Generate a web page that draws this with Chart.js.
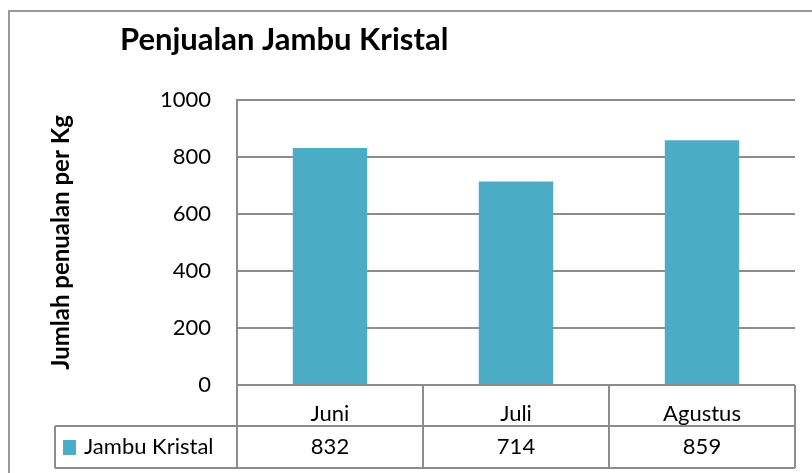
<!DOCTYPE html>
<html>
<head>
<meta charset="utf-8">
<script src="https://cdn.jsdelivr.net/npm/chart.js@4"></script>
<style>
  html, body { margin: 0; padding: 0; background: #fff; }
  #wrap { width: 812px; height: 473px; position: relative; }
</style>
</head>
<body>
<div id="wrap"><canvas id="salesChart"></canvas></div>
<script>
// Chart data
const chartTitle = 'Penjualan Jambu Kristal';
const yAxisTitle = 'Jumlah penualan per Kg';
const seriesName = 'Jambu Kristal';
const months = ['Juni', 'Juli', 'Agustus'];
const sales = [832, 714, 859];
const yTickValues = [0, 200, 400, 600, 800, 1000];

const barColor = '#4BACC6';
const lineColor = '#8c8c8c';
const textFont = 'Lato, "Open Sans", sans-serif';

// Frame, title and data table under the x axis
const tablePlugin = {
    id: 'dataTable',
    beforeDraw(chart) {
        const c = chart.ctx;
        c.save();
        c.fillStyle = '#fff';
        c.fillRect(0, 0, chart.width, chart.height);
        c.strokeStyle = '#9a9a9a';
        c.lineWidth = 2;
        c.beginPath();
        c.moveTo(9, chart.height);
        c.lineTo(9, 11);
        c.lineTo(chart.width, 11);
        c.stroke();

        c.fillStyle = '#000';
        c.font = 'bold 31px ' + textFont;
        c.textBaseline = 'alphabetic';
        c.fillText(chartTitle, 120, 50);
        c.restore();
    },
    afterDraw(chart) {
        const c = chart.ctx;
        const area = chart.chartArea;
        const x = chart.scales.x;
        const catW = x.getPixelForValue(1) - x.getPixelForValue(0);
        const headTop = area.bottom;
        const rowTop = x.bottom;
        const rowBottom = rowTop + 42;
        const legendLeft = area.left - 182;

        c.save();
        c.strokeStyle = lineColor;
        c.lineWidth = 2;
        c.beginPath();
        // column separators
        for (let i = 0; i <= months.length; i++) {
            const px = area.left + i * catW;
            c.moveTo(px, headTop);
            c.lineTo(px, rowBottom);
        }
        // row lines
        c.moveTo(legendLeft, rowTop);
        c.lineTo(area.right, rowTop);
        c.moveTo(legendLeft, rowBottom);
        c.lineTo(area.right, rowBottom);
        c.moveTo(legendLeft, rowTop);
        c.lineTo(legendLeft, rowBottom);
        c.stroke();

        // legend key
        const midY = (rowTop + rowBottom) / 2;
        c.fillStyle = barColor;
        c.fillRect(legendLeft + 8, midY - 7, 13, 15);
        c.fillStyle = '#000';
        c.font = '22px ' + textFont;
        c.textBaseline = 'middle';
        c.textAlign = 'left';
        c.fillText(seriesName, legendLeft + 29, midY);

        // values
        c.textAlign = 'center';
        sales.forEach((v, i) => {
            c.fillText(String(v), x.getPixelForValue(i), midY);
        });
        c.restore();
    }
};

const ctx = document.getElementById('salesChart').getContext('2d');
const salesChart = new Chart(ctx, {
    type: 'bar',
    data: {
        labels: months,
        datasets: [{
            label: seriesName,
            data: sales,
            backgroundColor: barColor,
            barPercentage: 0.4,
            categoryPercentage: 1.0
        }]
    },
    options: {
        responsive: true,
        maintainAspectRatio: false,
        animation: false,
        layout: { padding: { top: 100, right: 17, bottom: 47, left: 0 } },
        plugins: {
            legend: { display: false },
            title: { display: false },
            tooltip: { enabled: false }
        },
        scales: {
            x: {
                grid: { display: false },
                border: { display: false },
                ticks: {
                    color: '#000',
                    font: { family: textFont, size: 22 },
                    padding: 8
                },
                afterFit(scale) { scale.height = 41; }
            },
            y: {
                min: 0,
                max: 1000,
                afterBuildTicks(scale) {
                    scale.ticks = yTickValues.map(v => ({ value: v }));
                },
                grid: {
                    color: lineColor,
                    lineWidth: 2,
                    drawTicks: false
                },
                border: { color: lineColor, width: 2 },
                ticks: {
                    color: '#000',
                    font: { family: textFont, size: 22 },
                    padding: 26,
                    callback: (value) => String(value)
                },
                title: {
                    display: true,
                    text: yAxisTitle,
                    color: '#000',
                    font: { family: textFont, size: 24, weight: 'bold' },
                    padding: { top: 47, bottom: 0 }
                },
                afterFit(scale) { scale.width = 237; }
            }
        }
    },
    plugins: [tablePlugin]
});
</script>
</body>
</html>
